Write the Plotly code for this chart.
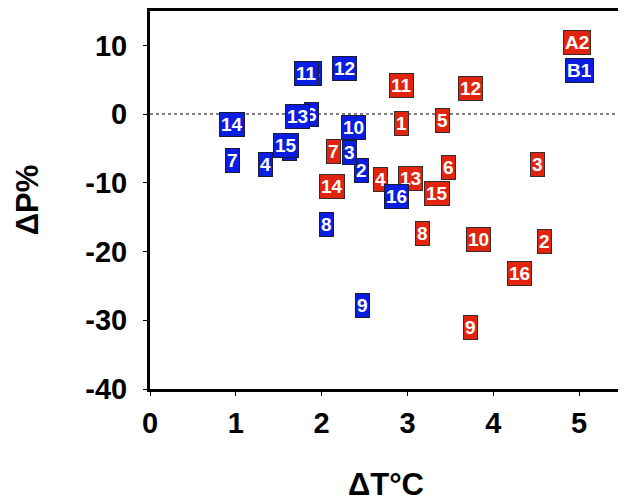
import plotly.graph_objects as go

# Red series (A)
red_labels = ["1", "2", "3", "4", "5", "6", "7", "8", "9", "10", "11", "12", "13", "14", "15", "16", "A2"]
red_dT = [2.93, 4.60, 4.51, 2.69, 3.41, 3.48, 2.14, 3.17, 3.74, 3.83, 2.93, 3.73, 3.03, 2.12, 3.34, 4.31, 4.98]
red_dP = [-1.3, -18.6, -7.3, -9.5, -1.0, -7.8, -5.5, -17.4, -31.1, -18.2, 4.2, 3.7, -9.4, -10.5, -11.6, -23.2, 10.4]

# Blue series (B)
blue_labels = ["1", "2", "3", "4", "5", "6", "7", "8", "9", "10", "11", "12", "13", "14", "15", "16", "B1"]
blue_dT = [1.63, 2.47, 2.33, 1.34, 1.92, 1.88, 0.96, 2.06, 2.48, 2.37, 1.82, 2.27, 1.72, 0.96, 1.59, 2.87, 5.01]
blue_dP = [-5.0, -8.2, -5.6, -7.3, 5.9, 0.0, -6.8, -16.0, -27.8, -2.0, 5.9, 6.6, -0.4, -1.45, -4.5, -12.0, 6.3]

x_ticks = [0, 1, 2, 3, 4, 5]
y_ticks = [10, 0, -10, -20, -30, -40]

RED = "#e2230e"
BLUE = "#0a1ee2"
FONT = "Liberation Sans"

fig = go.Figure()
fig.add_trace(go.Scatter(x=red_dT, y=red_dP, mode="markers",
                         marker=dict(opacity=0), hoverinfo="skip", showlegend=False))
fig.add_trace(go.Scatter(x=blue_dT, y=blue_dP, mode="markers",
                         marker=dict(opacity=0), hoverinfo="skip", showlegend=False))

annotations = []
for lab, x, y in zip(red_labels, red_dT, red_dP):
    annotations.append(dict(x=x, y=y, xref="x", yref="y", text=lab, showarrow=False,
                            font=dict(family=FONT, size=19, color="white", weight=700),
                            bgcolor=RED, bordercolor="#3a2a28", borderwidth=1, borderpad=1))
for lab, x, y in zip(blue_labels, blue_dT, blue_dP):
    annotations.append(dict(x=x, y=y, xref="x", yref="y", text=lab, showarrow=False,
                            font=dict(family=FONT, size=19, color="white", weight=700),
                            bgcolor=BLUE, bordercolor="#1a1a3a", borderwidth=1, borderpad=1))

fig.add_shape(type="line", xref="x domain", yref="y", x0=0, x1=1, y0=0, y1=0,
              line=dict(color="#555555", width=1.5, dash="dot"), layer="below")

axis_common = dict(showgrid=False, zeroline=False, showline=True, linecolor="black",
                   linewidth=3, mirror="ticks", ticks="outside", ticklen=4, tickwidth=1,
                   tickcolor="black", automargin=False,
                   tickfont=dict(family=FONT, size=29, color="black", weight=700))

# page body has an 8px margin, so the figure is sized/offset to compensate
fig.update_layout(
    width=618, height=494,
    margin=dict(l=142, r=4, t=3, b=113),
    plot_bgcolor="white", paper_bgcolor="white",
    annotations=annotations,
    xaxis=dict(range=[0, 5.5], tickvals=x_ticks, ticktext=[str(v) for v in x_ticks],
               ticklabelstandoff=2,
               title=dict(text="ΔT°C", standoff=44,
                          font=dict(family=FONT, size=31, color="black", weight=700)),
               **axis_common),
    yaxis=dict(range=[-40, 15], tickvals=y_ticks, ticktext=[str(v) for v in y_ticks],
               ticklabelstandoff=10,
               title=dict(text="ΔP%", standoff=38,
                          font=dict(family=FONT, size=31, color="black", weight=700)),
               **axis_common),
)

fig.write_html("out.html")
